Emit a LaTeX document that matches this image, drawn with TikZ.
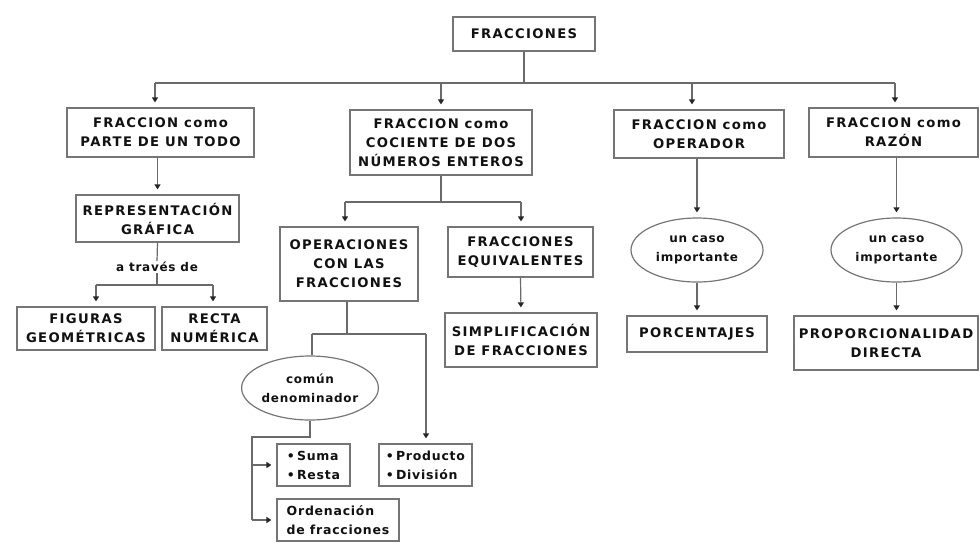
\documentclass[tikz,border=0pt]{standalone}
\usepackage{fontspec}
\setmainfont{DejaVu Sans}[LetterSpace=10]
\newfontfamily\lowfont{DejaVu Sans}[LetterSpace=6]
\usetikzlibrary{shapes.geometric,arrows.meta}
\definecolor{lncol}{HTML}{6A6A6A}
\definecolor{boxcol}{HTML}{757575}
\definecolor{txtcol}{HTML}{111111}
\tikzset{
  box/.style={draw=boxcol, line width=1.2pt, inner sep=2pt, align=center,
    text=txtcol, font=\bfseries\fontsize{13.2}{19}\selectfont},
  lbox/.style={box, align=left, font=\lowfont\bfseries\fontsize{12.5}{19}\selectfont},
  oval/.style={ellipse, draw=boxcol, line width=1.2pt, inner sep=0pt, align=center,
    text=txtcol, font=\lowfont\bfseries\fontsize{12}{19}\selectfont},
  lbl/.style={fill=white, inner sep=1pt, text=txtcol, font=\lowfont\bfseries\fontsize{12}{15}\selectfont},
  ln/.style={draw=lncol, line width=1.2pt},
  arr/.style={ln, -{Triangle[width=6pt,length=5pt,color=black!85]}, shorten >=5pt},
}
\begin{document}
\begin{tikzpicture}[x=1pt,y=-1pt]
\useasboundingbox (0,0) rectangle (979,542);
% nodes
\node[box, minimum width=142pt, minimum height=34pt] (root) at (524,34) {FRACCIONES};
\node[box, minimum width=187pt, minimum height=49pt] (b1) at (160.5,132.5) {FRACCION como\\PARTE DE UN TODO};
\node[box, minimum width=182pt, minimum height=65pt] (b2) at (441,142.5) {FRACCION como\\COCIENTE DE DOS\\NÚMEROS ENTEROS};
\node[box, minimum width=170pt, minimum height=48pt] (b3) at (699,134) {FRACCION como\\OPERADOR};
\node[box, minimum width=169pt, minimum height=49pt] (b4) at (893.5,132.5) {FRACCION como\\RAZÓN};
\node[box, minimum width=163pt, minimum height=47pt] (rep) at (157.5,218.5) {REPRESENTACIÓN\\GRÁFICA};
\node[lbl] (atr) at (157,267) {a través de};
\node[box, minimum width=138pt, minimum height=43pt] (fig) at (86,328.5) {FIGURAS\\GEOMÉTRICAS};
\node[box, minimum width=105pt, minimum height=43pt] (recta) at (214.5,328.5) {RECTA\\NUMÉRICA};
\node[box, minimum width=138pt, minimum height=74pt] (oper) at (349,264) {OPERACIONES\\CON LAS\\FRACCIONES};
\node[box, minimum width=145pt, minimum height=50pt] (equiv) at (520.5,252) {FRACCIONES\\EQUIVALENTES};
\node[box, minimum width=152pt, minimum height=54pt] (simp) at (521,340) {SIMPLIFICACIÓN\\DE FRACCIONES};
\node[oval, minimum width=132pt, minimum height=64pt] (comun) at (310,388) {común\\denominador};
\node[lbox, minimum width=73pt, minimum height=42pt] (suma) at (313.5,465) {•\,Suma\\•\,Resta};
\node[lbox, minimum width=93pt, minimum height=42pt] (prod) at (425.5,465) {•\,Producto\\•\,División};
\node[lbox, minimum width=122pt, minimum height=42pt] (orden) at (338,520) {Ordenación\\de fracciones};
\node[oval, minimum width=132pt, minimum height=64pt] (opel) at (697,250) {un caso\\importante};
\node[box, minimum width=140pt, minimum height=36pt] (porc) at (697,334) {PORCENTAJES};
\node[oval, minimum width=131pt, minimum height=64pt] (razel) at (896.5,250) {un caso\\importante};
\node[box, minimum width=184pt, minimum height=54pt] (prop) at (886,343) {PROPORCIONALIDAD\\DIRECTA};
% top level connectors
\coordinate (t0) at (524,83);
\coordinate (t1) at (155,83);
\coordinate (t2) at (441,83);
\coordinate (t3) at (692,83);
\coordinate (t4) at (895,83);
\draw[ln] (root) -- (t0);
\draw[ln] (t1) -- (t4);
\draw[arr] (t1) -- (t1 |- b1.north);
\draw[arr] (t2) -- (t2 |- b2.north);
\draw[arr] (t3) -- (t3 |- b3.north);
\draw[arr] (t4) -- (t4 |- b4.north);
% left branch
\draw[arr] (rep.north |- b1.south) -- (rep.north);
\coordinate (s1) at (157,285);
\coordinate (s1L) at (96,285);
\coordinate (s1R) at (213,285);
\draw[ln] (rep.south) -- (atr.north);
\draw[ln] (atr.south) -- (s1);
\draw[ln] (s1L) -- (s1R);
\draw[arr] (s1L) -- (s1L |- fig.north);
\draw[arr] (s1R) -- (s1R |- recta.north);
% second branch
\coordinate (s2L) at (345,202);
\coordinate (s2R) at (521,202);
\draw[ln] (b2.south) -- (b2.south |- s2L);
\draw[ln] (s2L) -- (s2R);
\draw[arr] (s2L) -- (s2L |- oper.north);
\draw[arr] (s2R) -- (s2R |- equiv.north);
\draw[arr] (equiv.south) -- (simp.north);
\coordinate (s3) at (347,334);
\coordinate (s3L) at (312,334);
\coordinate (s3R) at (426,334);
\draw[ln] (s3 |- oper.south) -- (s3);
\draw[ln] (s3L) -- (s3R);
\draw[ln] (s3L) -- (s3L |- comun.north);
\draw[arr] (s3R) -- (s3R |- prod.north);
\coordinate (c2) at (252,437);
\draw[ln] (comun.south) |- (c2) -- (c2 |- orden.west);
\draw[arr] (c2 |- suma.west) -- (suma.west);
\draw[arr] (c2 |- orden.west) -- (orden.west);
% operador / razon
\draw[arr] (opel.north |- b3.south) -- (opel.north);
\draw[arr] (opel.south) -- (porc.north);
\draw[arr] (razel.north |- b4.south) -- (razel.north);
\draw[arr] (razel.south) -- (razel.south |- prop.north);
\end{tikzpicture}
\end{document}
